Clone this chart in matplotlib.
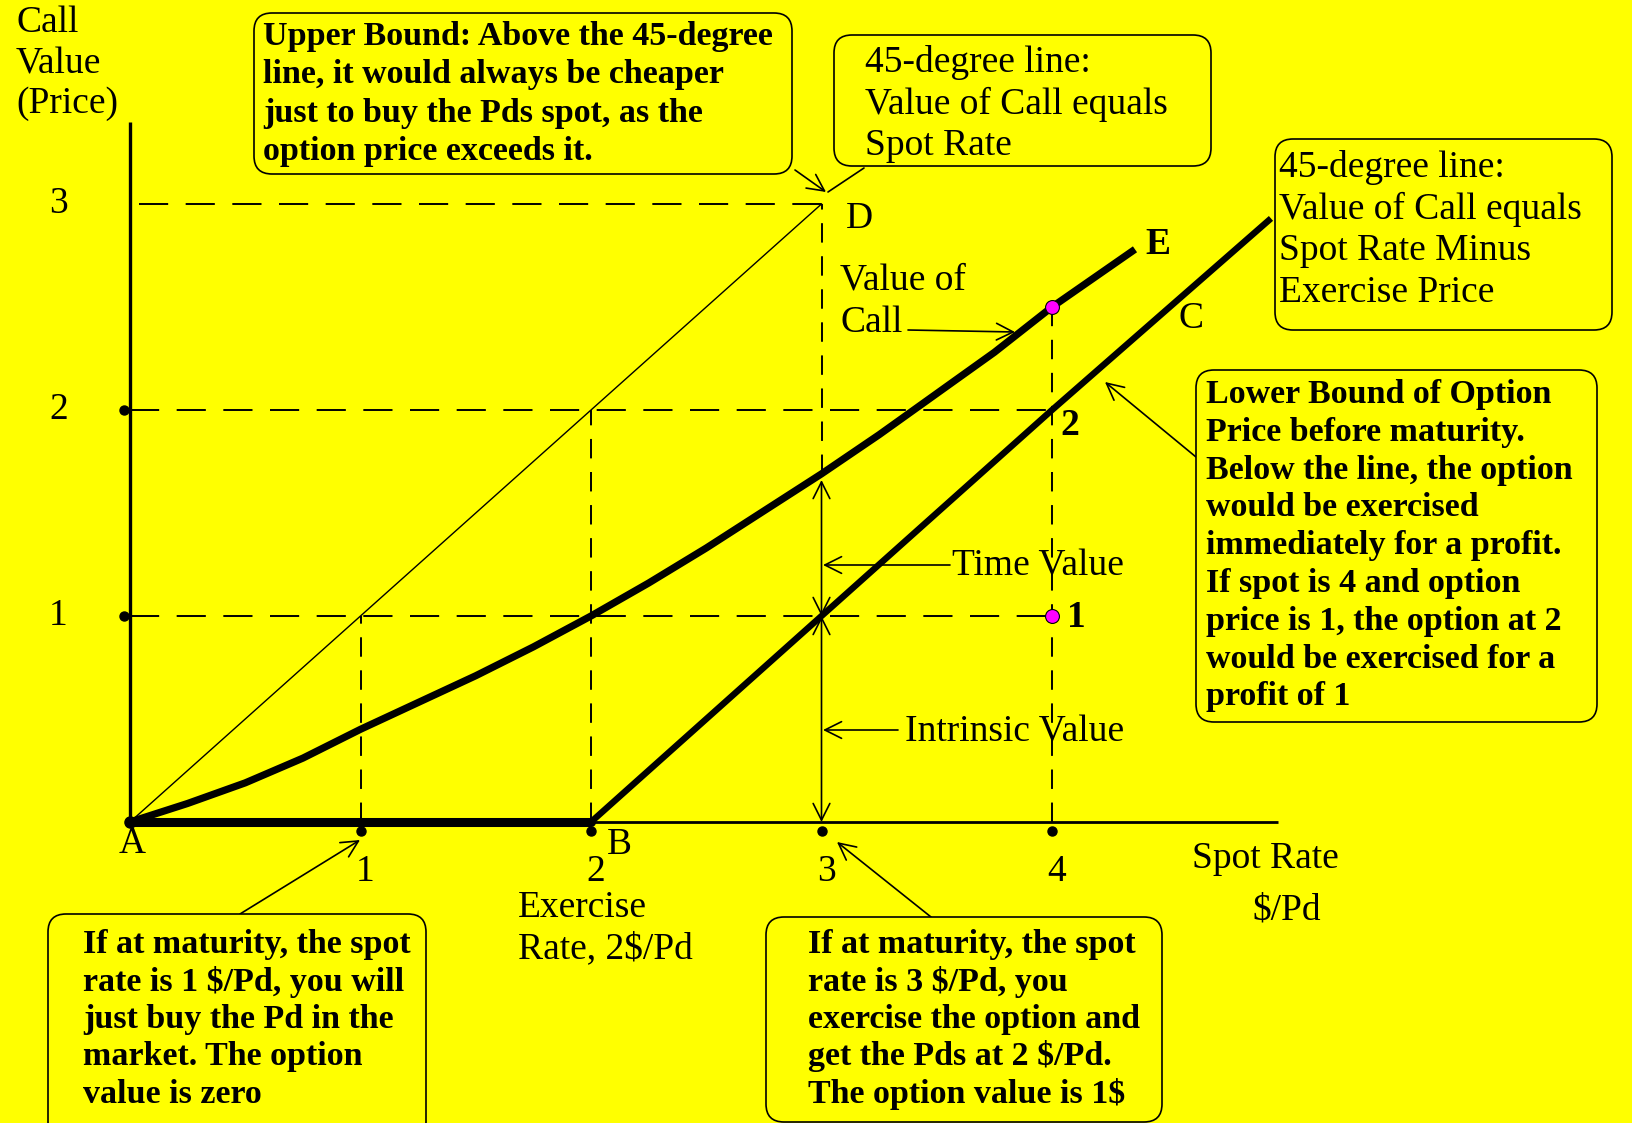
import matplotlib
matplotlib.use("Agg")
import matplotlib.pyplot as plt
from matplotlib.patches import FancyBboxPatch

# ---------------- data ----------------
spot_ticks = [1, 2, 3, 4]
x_tick_labels = ["1", "2", "3", "4"]
value_ticks = [1, 2, 3]
y_tick_labels = ["1", "2", "3"]

# value of call before maturity (curve A-E)
call_spot = [0, 0.25, 0.5, 0.75, 1.0, 1.25, 1.5, 1.75, 2.0, 2.25, 2.5, 2.75,
             3.0, 3.25, 3.5, 3.75, 4.0, 4.18, 4.36]
call_value = [0, 0.09, 0.19, 0.31, 0.45, 0.58, 0.71, 0.85, 1.0, 1.16, 1.33, 1.51,
              1.69, 1.88, 2.08, 2.28, 2.5, 2.64, 2.78]

# intrinsic value at maturity (A-B-C)
flat_spot = [0, 2]
flat_value = [0, 0]
rise_spot = [2, 3, 4, 4.95]
rise_value = [0, 1, 2, 2.93]

# 45-degree upper bound (A-D)
upper_spot = [0, 3]
upper_value = [0, 3]

exercise_price = 2
highlight_spot = [4, 4]
highlight_value = [2.5, 1]
call_at_3 = 1.69

# ---------------- layout ----------------
W, H = 1632, 1123
ox, oy, ux, uy = 130, 822, 230.5, 206
YEL = "#FFFF00"
SERIF = ["Liberation Serif", "DejaVu Serif"]
NS = 27    # normal text size
BS = 24.5  # bold box text size

fig = plt.figure(figsize=(W / 100, H / 100), dpi=100)
fig.patch.set_facecolor(YEL)
ax = fig.add_axes([0, 0, 1, 1])
ax.set_xlim(-ox / ux, (W - ox) / ux)
ax.set_ylim(-(H - oy) / uy, oy / uy)
ax.axis("off")

lay = fig.add_axes([0, 0, 1, 1])
lay.set_xlim(0, W)
lay.set_ylim(H, 0)
lay.axis("off")
lay.patch.set_alpha(0)

# axes lines
ax.plot([0, 0], [0, 3.40], color="black", lw=2.4, solid_capstyle="butt", zorder=3)
ax.plot([0, 4.98], [0, 0], color="black", lw=2.0, solid_capstyle="butt", zorder=3)

# dashed guides
dkw = dict(color="black", lw=1.4, zorder=2)
hd = (15, 9)
vd = (10, 7)
ax.plot([0, highlight_spot[1]], [1, 1], dashes=hd, **dkw)
ax.plot([0, highlight_spot[0]], [2, 2], dashes=hd, **dkw)
ax.plot([0.04, upper_spot[1]], [3, 3], dashes=hd, **dkw)
ax.plot([1, 1], [0, 1], dashes=vd, **dkw)
ax.plot([2, 2], [0, 2], dashes=vd, **dkw)
ax.plot([3, 3], [call_at_3, 3], dashes=vd, **dkw)
ax.plot([4, 4], [0, highlight_value[0]], dashes=vd, **dkw)

# lines
ax.plot(upper_spot, upper_value, color="black", lw=1.0, zorder=3)
ax.plot(call_spot, call_value, color="black", lw=5.2, solid_capstyle="butt",
        solid_joinstyle="round", zorder=4)
ax.plot(flat_spot, flat_value, color="black", lw=6.5, solid_capstyle="round", zorder=4)
ax.plot(rise_spot, rise_value, color="black", lw=4.6, solid_capstyle="butt", zorder=4)

# tick dots
ax.plot(spot_ticks, [-0.045] * len(spot_ticks), "o", color="black", ms=6.5, zorder=5)
ax.plot([-0.025] * 2, value_ticks[:2], "o", color="black", ms=6.5, zorder=5)
ax.plot([0], [0], "o", color="black", ms=8, zorder=5)

# highlighted points
ax.plot(highlight_spot, highlight_value, "o", ls="none", ms=10, mfc="#FF00FF",
        mec="black", mew=0.8, zorder=6)

# tick labels
for v, s in zip(value_ticks, y_tick_labels):
    ax.text(-0.31, v, s, ha="center", va="center", fontsize=NS, family=SERIF)
for v, s in zip(spot_ticks, x_tick_labels):
    ax.text(v + 0.02, -0.288, s, ha="center", va="baseline", fontsize=NS, family=SERIF)

# double arrows at spot = 3
akw = dict(color="black", lw=1.2, shrinkA=0, shrinkB=0, mutation_scale=20)
ax.annotate("", xy=(3, call_at_3 - 0.03), xytext=(3, 1),
            arrowprops=dict(arrowstyle="<->,head_length=0.6,head_width=0.3", **akw))
ax.annotate("", xy=(3, 1), xytext=(3, 0),
            arrowprops=dict(arrowstyle="<->,head_length=0.6,head_width=0.3", **akw))


def T(x, y, s, size=NS, weight="normal"):
    lay.text(x, y, s, fontsize=size, fontweight=weight, family=SERIF,
             ha="left", va="baseline")


def arrow(tip, start, head=True):
    style = "->,head_length=0.6,head_width=0.3" if head else "-"
    lay.annotate("", xy=tip, xytext=start,
                 arrowprops=dict(arrowstyle=style, **akw), zorder=7)


def box(x0, y0, x1, y1, x_text, base0, step, text, size, weight):
    p = FancyBboxPatch((x0, y0), x1 - x0, y1 - y0,
                       boxstyle="round,pad=0,rounding_size=18",
                       fc=YEL, ec="black", lw=1.2, zorder=8)
    lay.add_patch(p)
    for i, line in enumerate(text.split("\n")):
        lay.text(x_text, base0 + i * step, line, fontsize=size, fontweight=weight,
                 family=SERIF, ha="left", va="baseline", zorder=9)


# axis titles and point labels
T(16, 32, "Call")
T(16, 73, "Value")
T(16, 113, "(Price)")
T(119, 853, "A")
T(607, 854, "B")
T(1178, 328, "C")
T(846, 228, "D")
T(1145, 254, "E", weight="bold")
T(1060, 435, "2", weight="bold")
T(1067, 627, "1", weight="bold")
T(840, 290, "Value of")
T(840, 332, "Call")
T(952, 575, "Time Value")
T(905, 742, "Intrinsic Value")
T(1192, 868, "Spot Rate")
T(1252, 920, "$/Pd")
T(518, 917, "Exercise")
T(518, 958, "Rate, 2$/Pd")

# pointer arrows
arrow((1015, 332), (908, 330))
arrow((823, 565), (950, 565))
arrow((823, 730), (898, 730))
arrow((826, 192), (795, 170))
arrow((828, 192), (864, 168), head=False)
arrow((1105, 382), (1196, 457))
arrow((360, 840), (240, 914))
arrow((837, 842), (931, 917))

# boxes
box(254, 13, 792, 174, 263, 45, 38.3,
    "Upper Bound: Above the 45-degree\nline, it would always be cheaper\n"
    "just to buy the Pds spot, as the\noption price exceeds it.", BS, "bold")
box(834, 35, 1211, 166, 865, 72, 41.5,
    "45-degree line:\nValue of Call equals\nSpot Rate", NS, "normal")
box(1275, 139, 1612, 330, 1279, 177, 41.7,
    "45-degree line:\nValue of Call equals\nSpot Rate Minus\nExercise Price", NS, "normal")
box(1196, 370, 1597, 722, 1206, 403, 37.8,
    "Lower Bound of Option\nPrice before maturity.\nBelow the line, the option\n"
    "would be exercised\nimmediately for a profit.\nIf spot is 4 and option\n"
    "price is 1, the option at 2\nwould be exercised for a\nprofit of 1", BS, "bold")
box(48, 914, 426, 1140, 83, 953, 37.5,
    "If at maturity, the spot\nrate is 1 $/Pd, you will\njust buy the Pd in the\n"
    "market. The option\nvalue is zero", BS, "bold")
box(766, 917, 1162, 1122, 808, 953, 37.5,
    "If at maturity, the spot\nrate is 3 $/Pd, you\nexercise the option and\n"
    "get the Pds at 2 $/Pd.\nThe option value is 1$", BS, "bold")

fig.savefig("out.png", dpi=100, facecolor=YEL)
